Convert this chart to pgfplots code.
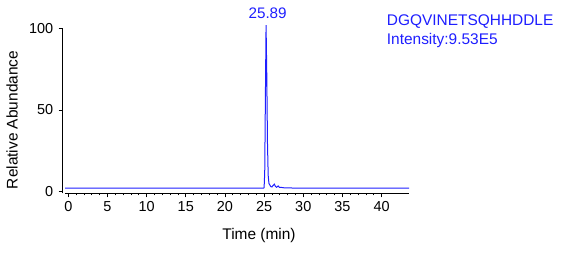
\documentclass[border=0pt]{standalone}
\usepackage{fontspec}
\setmainfont{Liberation Sans}
\usepackage{pgfplots}
\pgfplotsset{compat=1.18}
\definecolor{trace}{RGB}{30,30,255}
\begin{document}
\fontsize{15.5}{18}\selectfont
\begin{tikzpicture}[x=1bp,y=1bp]
\useasboundingbox (0,0) rectangle (572,262);
\begin{axis}[
  at={(65bp,68.7bp)}, anchor=south west,
  scale only axis, width=344bp, height=165bp,
  xmin=-0.42, xmax=43.5, ymin=-1, ymax=100,
  clip=false,
  axis x line*=bottom, axis y line*=left,
  axis y line shift=2.5bp,
  axis line style={line width=0.8bp, -},
  xtick={0,5,...,40}, minor x tick num=4,
  ytick={0,50,100},
  tick align=outside,
  major tick length=4bp, minor tick length=2bp,
  tick style={black, line width=0.8bp},
  every tick label/.append style={font=\fontsize{14.5}{16}\selectfont},
  /pgf/number format/assume math mode=true,
  xticklabel style={yshift=1bp},
]
\addplot[trace, line width=1bp] coordinates {
(-0.42,2.1) (5,2.1) (10,2.1) (15,2.1) (20,2.1) (24.9,2.1) (25.0,2.4)
(25.08,12) (25.16,55) (25.25,102) (25.34,72) (25.43,30) (25.52,10)
(25.62,5) (25.72,4.2) (25.85,3.1) (26.0,2.9) (26.15,3.8) (26.3,4.6)
(26.45,3.2) (26.6,2.7) (26.8,3.5) (26.95,2.6) (27.2,2.6) (27.5,2.4)
(28,2.3) (29,2.2) (31,2.2) (33,2.1) (36,2.1) (40,2.1) (43.5,2.1)
};
\node[trace, anchor=south, inner sep=0pt, font=\fontsize{15.3}{18}\selectfont] at (axis cs:25.45,105.5) {25.89};
\end{axis}
\node[rotate=90] at (12,142) {Relative Abundance};
\node at (259,27) {Time (min)};
\node[trace, anchor=west, inner sep=0pt] at (386.7,240) {DGQVINETSQHHDDLE};
\node[trace, anchor=west, inner sep=0pt] at (386.7,221) {Intensity:9.53E5};
\end{tikzpicture}
\end{document}
